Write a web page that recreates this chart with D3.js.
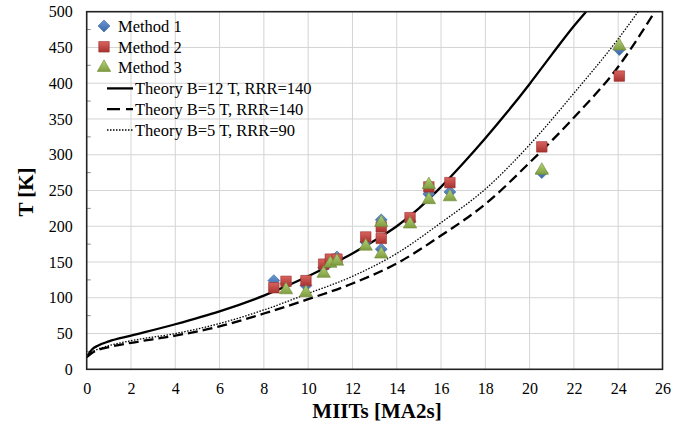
<!DOCTYPE html>
<html><head><meta charset="utf-8">
<script src="https://cdn.jsdelivr.net/npm/d3@7"></script>
<style>body{margin:0;background:#fff}svg{display:block}</style>
</head><body><svg id="c" width="694" height="427" font-family="Liberation Serif"></svg>
<script>
const xTicks = [0,2,4,6,8,10,12,14,16,18,20,22,24,26];
const yTicks = [0,50,100,150,200,250,300,350,400,450,500];
const yMinorTicks = [25,75,125,175,225,275,325,375,425,475];

const method1 = [[8.45,124],[9.0,120],[9.9,117],[10.7,142],[11.0,150],[11.3,157],[12.6,178],[13.3,209],[13.3,168],[14.6,207],[15.45,245],[16.4,248],[20.55,275],[24.05,447]];
const method2 = [[8.45,114],[9.0,123],[9.9,124],[10.7,147],[11.0,154],[11.3,154],[12.6,185],[13.3,199],[13.3,183],[14.6,212],[15.45,255],[16.4,261],[20.55,311],[24.05,410]];
const method3 = [[9.0,111],[9.9,107],[10.7,134],[11.0,148],[11.3,151],[12.6,172],[13.3,205],[13.3,161],[14.6,203],[15.45,258],[15.45,237],[16.4,241],[20.55,278],[24.05,452]];

const theoryB12R140 = [[0,17],[0.25,28],[0.5,33],[1,39],[2,47],[4,63],[6,81],[8,103],[10,130],[12,162],[13,180],[14,200],[15,225],[16,255],[17,288],[18,323],[19,360],[20,399],[21,440],[22,480],[22.55,500]];
const theoryB5R140 = [[0,17],[0.25,23],[0.5,27],[1,31],[2,37],[4,47],[6,60],[8,78],[10,98],[12,120],[14,148],[16,187],[18,231],[20,289],[22,352],[24,423],[25.65,500]];
const theoryB5R90 = [[0,17],[0.25,24],[0.5,28],[1,33],[2,40],[4,50],[6,64],[8,83],[10,106],[12,130],[14,162],[16,205],[18,252],[20,314],[22,386],[24,462],[24.9,500]];

const legendLabels = ["Method 1","Method 2","Method 3","Theory B=12 T, RRR=140","Theory B=5 T, RRR=140","Theory B=5 T, RRR=90"];

const FONT = "Liberation Serif";
const svg = d3.select("#c");
const L=86.7, R=662.5, T=11.7, B=369.3;
const x = d3.scaleLinear().domain([0,26]).range([L,R]);
const y = d3.scaleLinear().domain([0,500]).range([B,T]);

// grid
const g = svg.append("g");
g.selectAll(".vg").data(xTicks.slice(1,-1)).enter().append("line")
  .attr("x1",d=>x(d)).attr("x2",d=>x(d)).attr("y1",T).attr("y2",B)
  .attr("stroke","#d4d4d4").attr("stroke-width",1);
g.selectAll(".hg").data(yTicks.slice(1,-1)).enter().append("line")
  .attr("x1",L).attr("x2",R).attr("y1",d=>y(d)).attr("y2",d=>y(d))
  .attr("stroke","#d4d4d4").attr("stroke-width",1);

// minor ticks (inward)
g.selectAll(".mt").data(yMinorTicks).enter().append("line")
  .attr("x1",L).attr("x2",L+4).attr("y1",d=>y(d)).attr("y2",d=>y(d))
  .attr("stroke","#888").attr("stroke-width",1);

// axes via d3
const xAxis = svg.append("g").attr("transform",`translate(0,${B})`)
  .call(d3.axisBottom(x).tickValues(xTicks).tickSize(0).tickPadding(13).tickFormat(d3.format("d")));
xAxis.attr("font-family",FONT).attr("font-size",16);
xAxis.select(".domain").remove();
xAxis.selectAll("text").attr("font-family",FONT).attr("font-size",16).attr("fill","#000");
const yAxis = svg.append("g").attr("transform",`translate(${L},0)`)
  .call(d3.axisLeft(y).tickValues(yTicks).tickSize(0).tickPadding(14).tickFormat(d3.format("d")));
yAxis.attr("font-family",FONT).attr("font-size",16);
yAxis.select(".domain").remove();
yAxis.selectAll("text").attr("font-family",FONT).attr("font-size",16).attr("fill","#000");

// clip
svg.append("clipPath").attr("id","clip").append("rect").attr("x",L).attr("y",T).attr("width",R-L).attr("height",B-T);

const line = d3.line().x(d=>x(d[0])).y(d=>y(d[1])).curve(d3.curveMonotoneX);
const lines = svg.append("g").attr("clip-path","url(#clip)");
lines.append("path").datum(theoryB12R140).attr("d",line).attr("fill","none").attr("stroke","#000").attr("stroke-width",2.3);
lines.append("path").datum(theoryB5R140).attr("d",line).attr("fill","none").attr("stroke","#000").attr("stroke-width",2.3).attr("stroke-dasharray","10,5");
lines.append("path").datum(theoryB5R90).attr("d",line).attr("fill","none").attr("stroke","#000").attr("stroke-width",1.3).attr("stroke-dasharray","1.5,1.5");

// frame
svg.append("rect").attr("x",L).attr("y",T).attr("width",R-L).attr("height",B-T)
  .attr("fill","none").attr("stroke","#222").attr("stroke-width",1.6);

// gradients
const defs = svg.append("defs");
function grad(id,c1,c2){
  const gr = defs.append("linearGradient").attr("id",id).attr("x1","0").attr("y1","0").attr("x2","0").attr("y2","1");
  gr.append("stop").attr("offset","0").attr("stop-color",c1);
  gr.append("stop").attr("offset","1").attr("stop-color",c2);
}
grad("gb","#6d9ad6","#3a66a5");
grad("gr","#d9635f","#a8322f");
grad("gg","#b3d47a","#7f9c3f");

const sym = {
  diamond: d3.symbol().type(d3.symbolDiamond2).size(90),
  square: d3.symbol().type(d3.symbolSquare).size(110),
  triangle: d3.symbol().type(d3.symbolTriangle).size(78)
};
function drawPts(data, s, fill, stroke){
  svg.append("g").selectAll("path").data(data).enter().append("path")
    .attr("d",sym[s]).attr("transform",d=>`translate(${x(d[0])},${y(d[1])})`)
    .attr("fill",fill).attr("stroke",stroke).attr("stroke-width",0.6);
}
drawPts(method1,"diamond","url(#gb)","#2f5d9a");
drawPts(method2,"square","url(#gr)","#9a2d2a");
drawPts(method3,"triangle","url(#gg)","#6f8a35");

// legend
const lg = svg.append("g").attr("font-family",FONT);
const ly0 = 26, ldy = 20.8;
const mk = [["diamond","url(#gb)","#2f5d9a"],["square","url(#gr)","#9a2d2a"],["triangle","url(#gg)","#6f8a35"]];
mk.forEach((m,i)=>{
  lg.append("path").attr("d",sym[m[0]]).attr("transform",`translate(104,${ly0+i*ldy})`)
    .attr("fill",m[1]).attr("stroke",m[2]).attr("stroke-width",0.6);
  lg.append("text").attr("x",118).attr("y",ly0+i*ldy).attr("dy","0.35em").attr("font-family",FONT).attr("font-size",16.5).text(legendLabels[i]);
});
const ls = [["none",2.3],["13,6",2.3],["1.5,1.5",1.3]];
ls.forEach((s,i)=>{
  const yy = ly0+(i+3)*ldy;
  lg.append("line").attr("x1",107).attr("x2",133).attr("y1",yy).attr("y2",yy)
    .attr("stroke","#000").attr("stroke-width",s[1]).attr("stroke-dasharray",s[0]==="none"?null:s[0]);
  lg.append("text").attr("x",135).attr("y",yy).attr("dy","0.35em").attr("font-family",FONT).attr("font-size",16.5).text(legendLabels[i+3]);
});

// titles
svg.append("text").attr("x",377).attr("y",418).attr("text-anchor","middle").attr("font-family",FONT)
  .attr("font-size",21).attr("font-weight","bold").text("MIITs [MA2s]");
svg.append("text").attr("transform","translate(33,192) rotate(-90)").attr("text-anchor","middle").attr("font-family",FONT)
  .attr("font-size",21).attr("font-weight","bold").text("T [K]");
</script></body></html>
